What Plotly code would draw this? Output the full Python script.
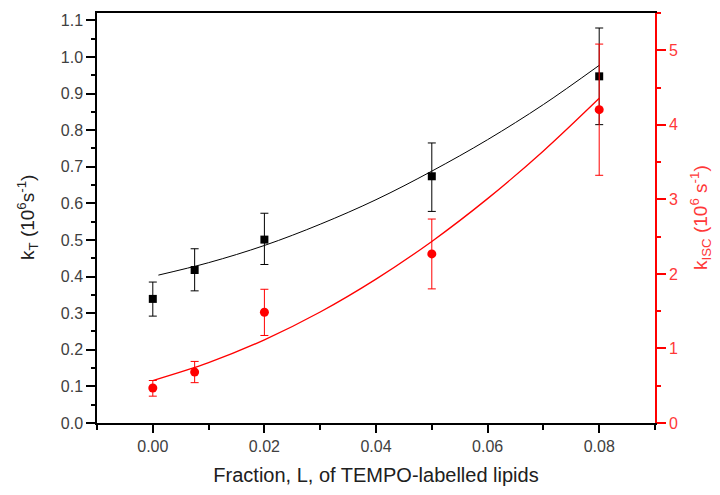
import plotly.graph_objects as go

# measured points
frac = [0.0, 0.0075, 0.02, 0.05, 0.08]
k_t = [0.339, 0.418, 0.501, 0.674, 0.947]
k_t_err_up = [0.046, 0.058, 0.072, 0.091, 0.132]
k_t_err_dn = [0.047, 0.057, 0.068, 0.096, 0.132]
k_isc = [0.47, 0.683, 1.486, 2.268, 4.203]
k_isc_err_up = [0.10, 0.143, 0.308, 0.468, 0.88]
k_isc_err_dn = [0.11, 0.142, 0.312, 0.469, 0.88]

# fitted curves
fit_x_t = [0.001, 0.01, 0.02, 0.03, 0.04, 0.05, 0.06, 0.07, 0.08]
fit_k_t = [0.404, 0.438, 0.485, 0.543, 0.610, 0.688, 0.774, 0.870, 0.977]
fit_x_isc = [0.0, 0.01, 0.02, 0.03, 0.04, 0.05, 0.06, 0.07, 0.08]
fit_k_isc = [0.57, 0.81, 1.116, 1.489, 1.93, 2.436, 3.01, 3.65, 4.356]

FONT = "Liberation Sans, Arial, sans-serif"
RED = "#ff0000"
RED_TXT = "#ff3838"
TICK_GREY = "#404040"
TITLE_GREY = "#202020"

fig = go.Figure()

fig.add_trace(go.Scatter(
    x=fit_x_t, y=fit_k_t, mode="lines", line=dict(color="black", width=1, shape="spline"),
    showlegend=False, hoverinfo="skip"))
fig.add_trace(go.Scatter(
    x=fit_x_isc, y=fit_k_isc, mode="lines", yaxis="y2",
    line=dict(color=RED, width=1.3, shape="spline"), showlegend=False, hoverinfo="skip"))

fig.add_trace(go.Scatter(
    x=frac, y=k_t, mode="markers",
    marker=dict(symbol="square", size=8, color="black"),
    error_y=dict(type="data", array=k_t_err_up, arrayminus=k_t_err_dn,
                 color="black", thickness=1, width=4),
    name="k_T", showlegend=False))
fig.add_trace(go.Scatter(
    x=frac, y=k_isc, mode="markers", yaxis="y2",
    marker=dict(symbol="circle", size=9, color=RED),
    error_y=dict(type="data", array=k_isc_err_up, arrayminus=k_isc_err_dn,
                 color=RED, thickness=1, width=4),
    name="k_ISC", showlegend=False))

fig.update_layout(
    width=720, height=495,
    margin=dict(l=89, r=73, t=5, b=80),
    paper_bgcolor="white", plot_bgcolor="white",
    font=dict(family=FONT, size=16, color=TICK_GREY),
    xaxis=dict(
        range=[-0.01, 0.09], tick0=0, dtick=0.02, tickformat=".2f",
        showline=True, linecolor="black", linewidth=1.5, mirror=True,
        ticks="outside", ticklen=8, tickcolor="black", tickwidth=1.5,
        minor=dict(ticks="outside", dtick=0.01, tick0=0, ticklen=5,
                   tickcolor="black", tickwidth=1.5),
        showgrid=False, zeroline=False, automargin=False,
        tickfont=dict(size=16, color=TICK_GREY),
        title=dict(text="Fraction, L, of TEMPO-labelled lipids",
                   font=dict(size=20, color=TITLE_GREY), standoff=14),
    ),
    yaxis=dict(
        range=[0, 1.12], tick0=0, dtick=0.1, tickformat=".1f",
        showline=True, linecolor="black", linewidth=1.5, mirror=False,
        ticks="outside", ticklen=9, tickcolor="black", tickwidth=1.5,
        minor=dict(ticks="outside", dtick=0.05, tick0=0, ticklen=4.5,
                   tickcolor="black", tickwidth=1.5),
        showgrid=False, zeroline=False, automargin=False,
        tickfont=dict(size=16, color=TICK_GREY),
    ),
    yaxis2=dict(
        overlaying="y", side="right", anchor="x",
        range=[0, 5.5], tick0=0, dtick=1,
        showline=True, linecolor=RED, linewidth=1.5,
        ticks="outside", ticklen=9, tickcolor=RED, tickwidth=1.5,
        minor=dict(ticks="outside", dtick=0.5, tick0=0, ticklen=4.5,
                   tickcolor=RED, tickwidth=1.5),
        showgrid=False, zeroline=False, automargin=False,
        tickfont=dict(size=16, color=RED_TXT),
    ),
)

# y-axis titles placed as rotated annotations for exact positioning
fig.add_annotation(
    text="k<sub>T</sub> (10<sup>6</sup>s<sup>-1</sup>)", textangle=-90,
    xref="paper", yref="paper", x=0, y=0.5, xanchor="center", yanchor="middle",
    xshift=-70, showarrow=False, font=dict(size=19, color=TITLE_GREY))
fig.add_annotation(
    text="k<sub>ISC</sub> (10<sup>6</sup> s<sup>-1</sup>)", textangle=-90,
    xref="paper", yref="paper", x=1, y=0.5, xanchor="center", yanchor="middle",
    xshift=45, showarrow=False, font=dict(size=19, color=RED_TXT))

fig.write_html("out.html")
